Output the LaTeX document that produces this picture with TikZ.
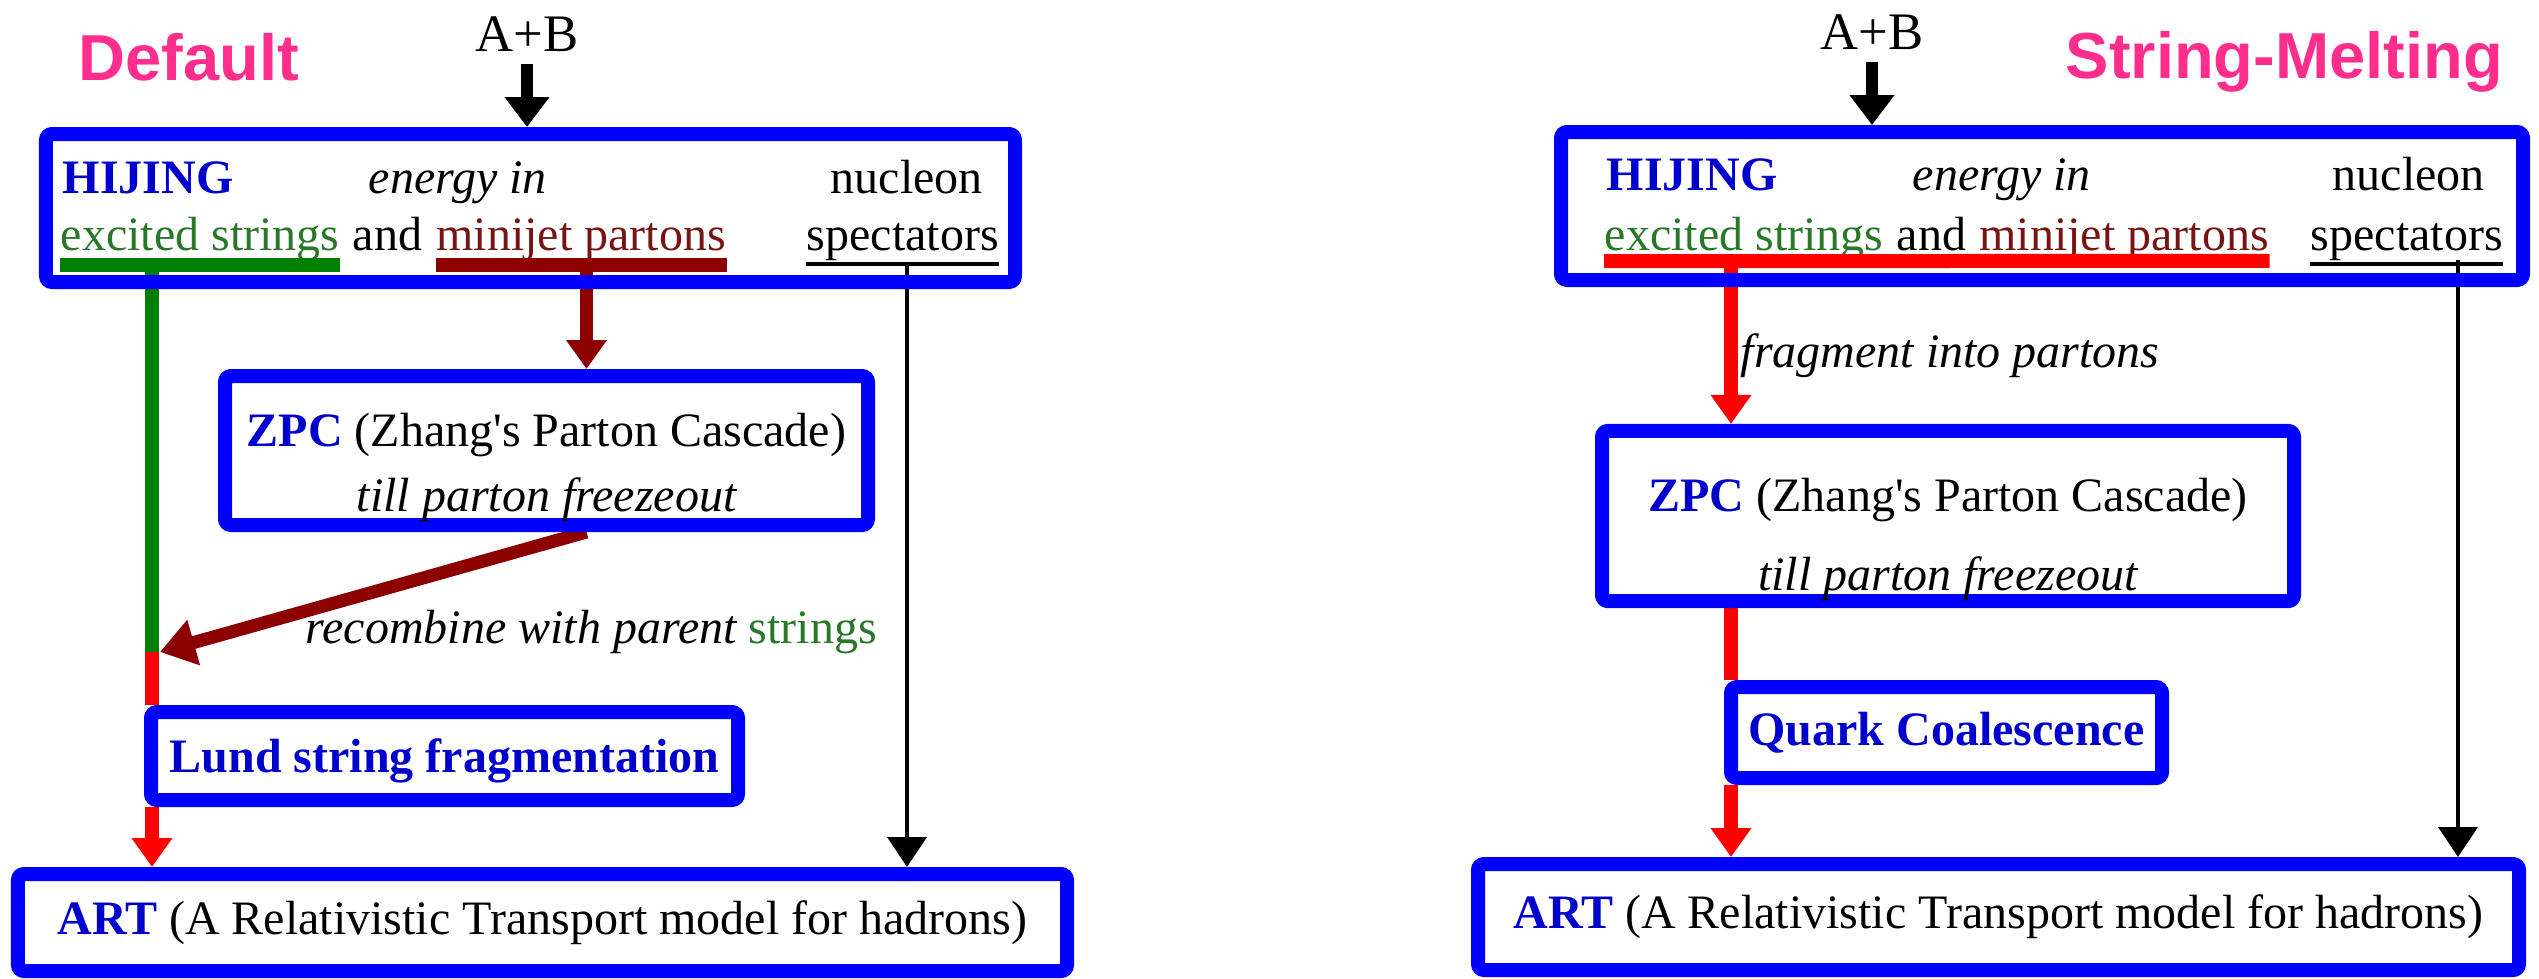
\documentclass[tikz,border=0pt]{standalone}
\usepackage{fontspec}
\setmainfont{Liberation Serif}
\newfontfamily\tagfont{Liberation Sans}
\usetikzlibrary{arrows.meta, positioning}

\definecolor{boxblue}{RGB}{0,0,255}
\definecolor{nameblue}{RGB}{0,0,205}
\definecolor{tagpink}{RGB}{255,45,140}
\definecolor{strgreen}{RGB}{0,128,0}
\definecolor{txtgreen}{RGB}{40,120,40}
\definecolor{jetred}{RGB}{140,0,0}
\definecolor{txtred}{RGB}{120,20,20}
\definecolor{meltred}{RGB}{255,0,0}

\newcommand{\prog}[1]{\textbf{\textcolor{nameblue}{#1}}}

\pgfdeclarelayer{bg}
\pgfsetlayers{bg,main}

\begin{document}
\begin{tikzpicture}[
    font=\fontsize{13.66}{18.5}\selectfont,
    every node/.style={inner sep=0pt},
    stage/.style={draw=boxblue, line width=1.4mm, rounded corners=0.6mm, align=center},
    tag/.style={font=\tagfont\bfseries\fontsize{18.5}{22}\selectfont, text=tagpink, anchor=base west},
    beam/.style={font=\fontsize{15}{18}\selectfont, anchor=base},
    txt/.style={anchor=base west},
    wire/.style={line width=1.4mm},
    feed/.style={line width=1.2mm, shorten <=1.2mm, -{Triangle[width=4.3mm, length=3mm]}},
    flow/.style={line width=1.4mm, -{Triangle[width=3.9mm, length=2.9mm]}},
    pass/.style={line width=0.4mm, -{Triangle[width=3.9mm, length=3mm]}},
    bar/.style={line width=1.4mm}
]
\useasboundingbox (0,0) rectangle (25.39,-9.78);

% default
\node[tag] (defL) at (0.78,-0.80) {Default};
\node[beam] (abL) at (5.27,-0.51) {A+B};
\node[stage, minimum width=9.69cm, minimum height=1.48cm] (hijL) at (5.305,-2.08) {};
\node[txt] (hnL) at (0.62,-1.93) {\prog{HIJING}};
\node[txt] (enL) at (3.68,-1.93) {\itshape energy in};
\node[txt] (nuL) at (8.30,-1.93) {nucleon};
\node[txt, text=txtgreen] (exL) at (0.60,-2.50) {excited strings};
\node[txt, right=0.12cm of exL.base east, anchor=base west] (anL) {and};
\node[txt, right=0.13cm of anL.base east, anchor=base west, text=txtred] (mjL) {minijet partons};
\node[txt] (spL) at (8.06,-2.50) {spectators};
\node[stage, minimum width=6.43cm, minimum height=1.49cm] (zpcL) at (5.465,-4.505) {\rule{0pt}{0.68cm}\prog{ZPC} (Zhang\textquotesingle s Parton Cascade)\\ \itshape till parton freezeout};
\node[txt] (reL) at (3.05,-6.43) {{\itshape recombine with parent} \textcolor{txtgreen}{strings}};
\node[stage, minimum width=5.87cm, minimum height=0.88cm] (luL) at (4.445,-7.56) {\rule{0pt}{0.43cm}\prog{Lund string fragmentation}};
\node[stage, minimum width=10.49cm, minimum height=0.97cm] (artL) at (5.425,-9.225) {\prog{ART} (A Relativistic Transport model for hadrons)};

% string melting
\node[tag] (defR) at (20.65,-0.78) {String-Melting};
\node[beam] (abR) at (18.72,-0.49) {A+B};
\node[stage, minimum width=9.62cm, minimum height=1.48cm] (hijR) at (20.42,-2.06) {};
\node[txt] (hnR) at (16.06,-1.90) {\prog{HIJING}};
\node[txt] (enR) at (19.12,-1.90) {\itshape energy in};
\node[txt] (nuR) at (23.32,-1.90) {nucleon};
\node[txt, text=txtgreen] (exR) at (16.04,-2.50) {excited strings};
\node[txt, right=0.12cm of exR.base east, anchor=base west] (anR) {and};
\node[txt, right=0.12cm of anR.base east, anchor=base west, text=txtred] (mjR) {minijet partons};
\node[txt] (spR) at (23.10,-2.50) {spectators};
\node[txt] (frR) at (17.40,-3.67) {\itshape fragment into partons};
\node[stage, minimum width=6.92cm, minimum height=1.48cm] (zpcR) at (19.48,-5.16) {\rule{0pt}{0.81cm}\prog{ZPC} (Zhang\textquotesingle s Parton Cascade)\\[1.4mm] \itshape till parton freezeout};
\node[stage, minimum width=4.31cm, minimum height=0.91cm] (qcR) at (19.465,-7.325) {\prog{Quark Coalescence}};
\node[stage, minimum width=10.41cm, minimum height=1.06cm] (artR) at (19.985,-9.17) {\prog{ART} (A Relativistic Transport model for hadrons)};

\coordinate (gsL) at (1.52,-2.64);
\coordinate (jnL) at (1.52,-6.52);
\coordinate (msL) at (5.865,-2.64);
\coordinate (ksL) at (9.07,-2.63);
\coordinate (rsR) at (17.31,-2.60);
\coordinate (ksR) at (24.58,-2.60);

% underlines
\draw[bar, strgreen] ([yshift=-0.4mm]exL.south west) -- ([yshift=-0.4mm]exL.south east);
\draw[bar, jetred] ([yshift=-0.4mm]mjL.south west) -- ([yshift=-0.4mm]mjL.south east);
\draw[line width=0.4mm] ([yshift=-0.3mm]spL.south west) -- ([yshift=-0.3mm]spL.south east);
\draw[bar, meltred] (exR.south west) -- (mjR.south east);
\draw[line width=0.4mm] ([yshift=-0.3mm]spR.south west) -- ([yshift=-0.3mm]spR.south east);

\begin{pgfonlayer}{bg}
\draw[feed] (abL.south) -- (abL.south |- hijL.north);
\draw[wire, strgreen] (gsL) -- (jnL);
\draw[wire, meltred] (jnL) -- (jnL |- luL.north);
\draw[flow, meltred] (jnL |- luL.south) -- (jnL |- artL.north);
\draw[flow, jetred, line width=1.3mm] (msL) -- (msL |- zpcL.north);
\draw[jetred, line width=1.3mm, -{Triangle[width=4.5mm, length=3.5mm]}] (zpcL.south -| msL) -- ([xshift=0.8mm]jnL);
\draw[pass] (ksL) -- (ksL |- artL.north);

\draw[feed] (abR.south) -- (abR.south |- hijR.north);
\draw[flow, meltred] (rsR) -- (rsR |- zpcR.north);
\draw[wire, meltred] (rsR |- zpcR.south) -- (rsR |- qcR.north);
\draw[flow, meltred] (rsR |- qcR.south) -- (rsR |- artR.north);
\draw[pass] (ksR) -- (ksR |- artR.north);
\end{pgfonlayer}
\end{tikzpicture}
\end{document}
